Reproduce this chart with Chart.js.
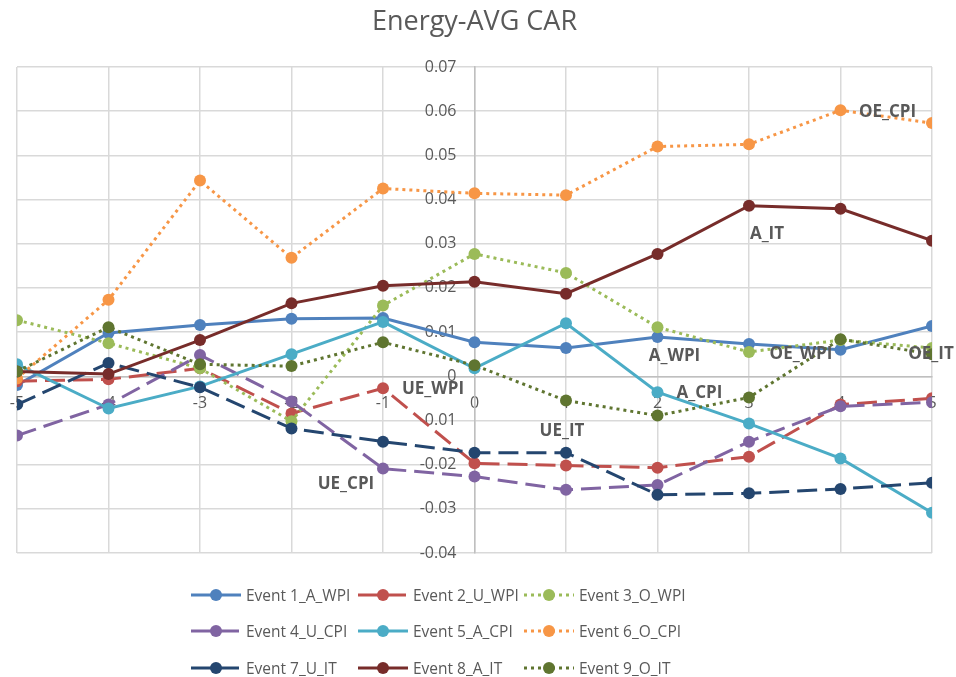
<!DOCTYPE html>
<html>
<head>
<meta charset="utf-8">
<script src="https://cdn.jsdelivr.net/npm/chart.js@4/dist/chart.umd.min.js"></script>
<style>
  html, body { margin: 0; padding: 0; background: #fff; }
  #wrap { position: relative; width: 956px; height: 677px; font-family: "Open Sans", sans-serif; }
  #legend { position: absolute; left: 191px; top: 583px; display: grid; grid-template-columns: 167px 166px 190px; row-gap: 13.5px; }
  .item { display: flex; align-items: center; height: 23px; color: #595959; font-size: 15.5px; white-space: nowrap; }
  .item svg { margin-right: 5px; flex: none; }
</style>
</head>
<body>
<div id="wrap">
  <canvas id="c" width="956" height="677"></canvas>
  <div id="legend"></div>
</div>
<script>
// event window (days)
const xValues = [-5, -4, -3, -2, -1, 0, 1, 2, 3, 4, 5];

const seriesNames = [
  'Event 1_A_WPI', 'Event 2_U_WPI', 'Event 3_O_WPI',
  'Event 4_U_CPI', 'Event 5_A_CPI', 'Event 6_O_CPI',
  'Event 7_U_IT', 'Event 8_A_IT', 'Event 9_O_IT'
];

const aWpi = [-0.0020, 0.0098, 0.0116, 0.0130, 0.0132, 0.0077, 0.0064, 0.0089, 0.0073, 0.0060, 0.0114];
const uWpi = [-0.0011, -0.0007, 0.0018, -0.0084, -0.0027, -0.0197, -0.0202, -0.0207, -0.0182, -0.0064, -0.0050];
const oWpi = [0.0127, 0.0075, 0.0018, -0.0102, 0.0160, 0.0277, 0.0234, 0.0111, 0.0055, 0.0082, 0.0064];
const uCpi = [-0.0134, -0.0064, 0.0048, -0.0057, -0.0209, -0.0227, -0.0257, -0.0246, -0.0148, -0.0068, -0.0059];
const aCpi = [0.0027, -0.0073, -0.0023, 0.0050, 0.0123, 0.0018, 0.0120, -0.0036, -0.0107, -0.0186, -0.0309];
const oCpi = [-0.0005, 0.0173, 0.0443, 0.0268, 0.0425, 0.0414, 0.0410, 0.0520, 0.0525, 0.0602, 0.0573];
const uIt  = [-0.0064, 0.0030, -0.0025, -0.0118, -0.0148, -0.0173, -0.0173, -0.0268, -0.0265, -0.0255, -0.0241];
const aIt  = [0.0011, 0.0005, 0.0082, 0.0165, 0.0205, 0.0214, 0.0187, 0.0277, 0.0386, 0.0379, 0.0307];
const oIt  = [0.0011, 0.0111, 0.0027, 0.0023, 0.0077, 0.0025, -0.0055, -0.0089, -0.0048, 0.0084, 0.0050];

const seriesValues = [aWpi, uWpi, oWpi, uCpi, aCpi, oCpi, uIt, aIt, oIt];

// y axis ticks
const yMin = -0.04, yMax = 0.07, yStep = 0.01;

// point labels: text, series index, point index
const labelTexts  = ['OE_CPI', 'A_IT', 'A_WPI', 'OE_WPI', 'OE_IT', 'A_CPI', 'UE_IT', 'UE_WPI', 'UE_CPI'];
const labelSeries = [5, 7, 0, 2, 8, 4, 6, 1, 3];
const labelPoints = [9, 8, 7, 8, 10, 7, 6, 4, 4];

// ---- styling ----
const colors = ['#4F81BD', '#C0504D', '#9BBB59', '#8064A2', '#4BACC6', '#F79646', '#24466F', '#772C2A', '#5F7530'];
const DASH = [20, 8], DOT = [3, 4];
const dashes = [[], DASH, DOT, DASH, [], DOT, DASH, [], DOT];
const labelOffsets = [[47, 2], [18, 28], [17, 19], [52, 2], [-1, 0], [42, 1], [-4, -22], [50, 1], [-37, 16]];
const grey = '#595959';

const datasets = seriesNames.map((name, i) => ({
  label: name,
  data: xValues.map((x, j) => ({ x, y: seriesValues[i][j] })),
  borderColor: colors[i],
  backgroundColor: colors[i],
  borderWidth: 3,
  borderDash: dashes[i],
  pointRadius: 6,
  pointHoverRadius: 6,
  pointBorderWidth: 0,
  tension: 0,
  order: 9 - i
}));

const pointLabelPlugin = {
  id: 'pointLabels',
  afterDatasetsDraw(chart) {
    const ctx = chart.ctx;
    ctx.save();
    ctx.font = 'bold 17px "Open Sans", sans-serif';
    ctx.fillStyle = grey;
    ctx.textAlign = 'center';
    ctx.textBaseline = 'middle';
    labelTexts.forEach((t, k) => {
      const pt = chart.getDatasetMeta(labelSeries[k]).data[labelPoints[k]];
      ctx.fillText(t, pt.x + labelOffsets[k][0], pt.y + labelOffsets[k][1]);
    });
    ctx.restore();
  }
};

new Chart(document.getElementById('c'), {
  type: 'line',
  data: { datasets },
  plugins: [pointLabelPlugin],
  options: {
    responsive: false,
    animation: false,
    layout: { padding: { left: 17, right: 24, bottom: 124, top: 0 } },
    plugins: {
      legend: { display: false },
      tooltip: { enabled: false },
      title: {
        display: true,
        text: 'Energy-AVG CAR',
        color: grey,
        font: { family: '"Open Sans", sans-serif', size: 27, weight: 'normal' },
        padding: { top: 6, bottom: 28.6 }
      }
    },
    scales: {
      x: {
        type: 'linear',
        min: -5, max: 5,
        position: { y: 0 },
        grid: { color: '#D9D9D9', lineWidth: 1.5, drawTicks: false },
        border: { color: '#BFBFBF', width: 1.5 },
        ticks: {
          stepSize: 1, color: grey, padding: 0,
          font: { family: '"Open Sans", sans-serif', size: 16, lineHeight: 3.4 },
          callback: v => String(v)
        }
      },
      y: {
        min: yMin, max: yMax,
        position: 'center',
        grid: { color: '#D9D9D9', lineWidth: 1.5, drawTicks: false },
        border: { color: '#BFBFBF', width: 1.5 },
        ticks: {
          stepSize: yStep, color: grey, padding: 18,
          font: { family: '"Open Sans", sans-serif', size: 16 },
          callback: v => String(Number(v.toFixed(2)))
        }
      }
    }
  }
});

// legend
const legend = document.getElementById('legend');
seriesNames.forEach((name, i) => {
  const d = dashes[i].length ? dashes[i].join(' ') : 'none';
  const item = document.createElement('div');
  item.className = 'item';
  item.innerHTML =
    `<svg width="50" height="14"><line x1="0" y1="7" x2="50" y2="7" stroke="${colors[i]}" stroke-width="3" stroke-dasharray="${d}"/>` +
    `<circle cx="25" cy="7" r="6" fill="${colors[i]}"/></svg><span>${name}</span>`;
  legend.appendChild(item);
});
</script>
</body>
</html>
